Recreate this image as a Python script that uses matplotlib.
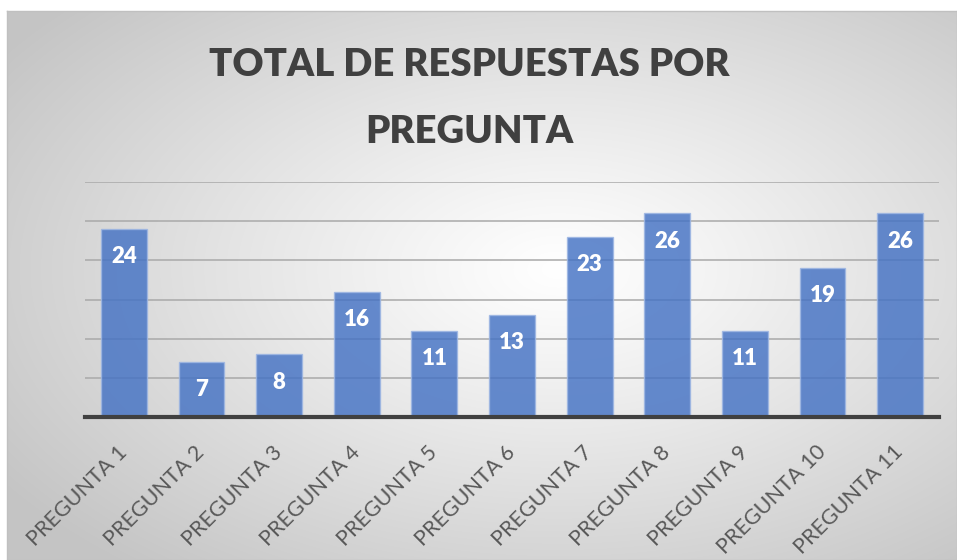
import numpy as np
import matplotlib
matplotlib.use("Agg")
import matplotlib.pyplot as plt

categories = ["PREGUNTA 1", "PREGUNTA 2", "PREGUNTA 3", "PREGUNTA 4", "PREGUNTA 5",
              "PREGUNTA 6", "PREGUNTA 7", "PREGUNTA 8", "PREGUNTA 9", "PREGUNTA 10",
              "PREGUNTA 11"]
values = [24, 7, 8, 16, 11, 13, 23, 26, 11, 19, 26]
title_lines = ["TOTAL DE RESPUESTAS POR", "PREGUNTA"]

W, H = 957, 560
fig = plt.figure(figsize=(W / 100, H / 100), dpi=100)
fig.patch.set_facecolor("white")

# radial gradient chart background
bx0, by0, bx1, by1 = 7, 11, 957, 560  # pixel box (top-left origin)
bg = fig.add_axes([bx0 / W, 1 - by1 / H, (bx1 - bx0) / W, (by1 - by0) / H], zorder=0)
gw, gh = bx1 - bx0, by1 - by0
xx, yy = np.meshgrid(np.arange(gw), np.arange(gh))
cx, cy = 0.58 * gw, 0.47 * gh
t = np.sqrt(((xx - cx) / (gw / 2)) ** 2 + ((yy - cy) / (gh / 2)) ** 2) / np.sqrt(2)
t = np.clip(t, 0, 1) ** 1.1
lo = 0.77
img = 1 - (1 - lo) * t
bg.imshow(np.dstack([img, img, img]), aspect="auto", interpolation="bilinear")
bg.set_xticks([]); bg.set_yticks([])
for s in bg.spines.values():
    s.set_color("#c0c0c0"); s.set_linewidth(1.0)

# main axes
ax = fig.add_axes([85 / W, 1 - 417 / H, 854 / W, (417 - 182) / H], zorder=1)
ax.set_facecolor("none")
x = np.arange(len(categories))
bars = ax.bar(x, values, width=0.59, color="#4472C4", alpha=0.82,
              edgecolor="#9db6e3", linewidth=1.0, zorder=3)
ax.set_xlim(-0.5, len(categories) - 0.5)
ax.set_ylim(0, 30)
ax.set_yticks([0, 5, 10, 15, 20, 25, 30])
ax.yaxis.grid(True, color="#a9a9a9", linewidth=1.1, zorder=1)
ax.set_axisbelow(True)
ax.tick_params(axis="y", left=False, labelleft=False)
for s in ["top", "right", "left"]:
    ax.spines[s].set_visible(False)
ax.spines["bottom"].set_color("#404040")
ax.spines["bottom"].set_linewidth(3.0)
ax.spines["bottom"].set_zorder(5)

ax.set_xticks(x)
ax.set_xticklabels(categories, rotation=45, ha="right", va="center",
                   rotation_mode="anchor", fontsize=15.5, color="#595959",
                   family=["Lato", "DejaVu Sans"])
ax.tick_params(axis="x", length=0, pad=23)

for xi, v in zip(x, values):
    ax.annotate(str(v), (xi, v), xytext=(0, -20), textcoords="offset points",
                ha="center", va="center", color="white", fontsize=16,
                fontweight="heavy", family=["Lato", "DejaVu Sans"], zorder=4)

tx = 469.5 / W
fig.text(tx, 1 - 76 / H, title_lines[0], ha="center", va="baseline",
         fontsize=27.5, fontweight="heavy", color="#404040",
         family=["Lato", "DejaVu Sans"], zorder=5)
fig.text(tx, 1 - 143 / H, title_lines[1], ha="center", va="baseline",
         fontsize=27.5, fontweight="heavy", color="#404040",
         family=["Lato", "DejaVu Sans"], zorder=5)

fig.savefig("out.png", dpi=100)
